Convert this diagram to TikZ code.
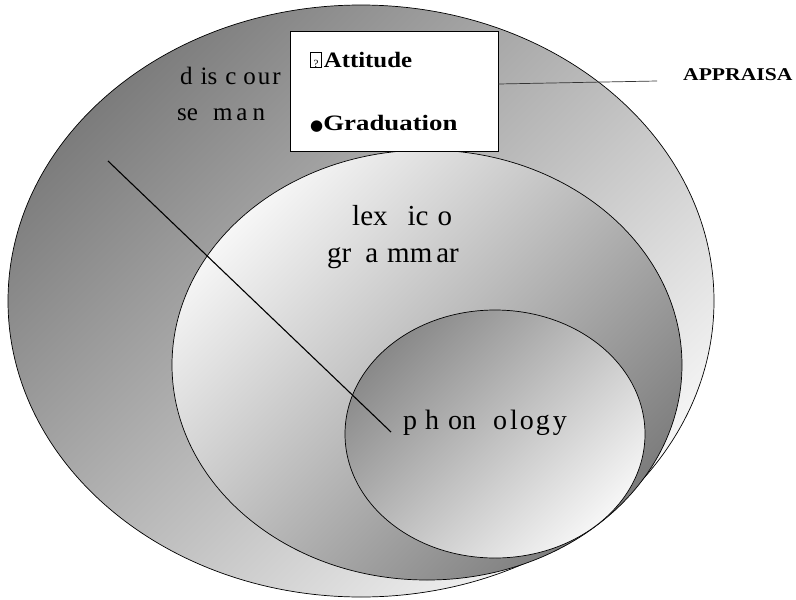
\documentclass[tikz,border=0pt]{standalone}
\usepackage{fontspec}
\setmainfont{Liberation Serif}
\newfontfamily\dejavu{DejaVu Sans}
\usetikzlibrary{shapes.geometric}
\definecolor{gdark}{HTML}{7C7C7C}
\definecolor{glight}{HTML}{F6F6F6}
\newcommand{\gp}[1]{\hspace{#1pt}}
\begin{document}
\begin{tikzpicture}[x=1pt,y=-1pt,
  ring/.style={ellipse, draw=black, line width=0.7pt, inner sep=0pt},
  txt/.style={anchor=base west, inner sep=0pt},
  reg/.style={txt, font=\fontsize{25}{27}\selectfont},
  big/.style={txt, font=\fontsize{29}{31}\selectfont},
  bld/.style={txt, font=\bfseries\fontsize{22}{26}\selectfont},
  thinline/.style={draw=black!80, line width=0.7pt},
]
\useasboundingbox (0,0) rectangle (796,600);
% ellipses
\node[ring, minimum width=706, minimum height=592, top color=gdark, bottom color=glight, shading angle=45] (outer) at (361,301) {};
\node[ring, minimum width=510, minimum height=430, top color=glight, bottom color=gdark, shading angle=45] (middle) at (427,365) {};
\node[ring, minimum width=300, minimum height=248, top color=gdark!90, bottom color=glight, shading angle=45] (inner) at (495,434) {};
% labels in ellipses
\node[reg] (disc1) at (180,84) {d\gp{8}is\gp{8}c\gp{7}o\gp{2}u\gp{2}r};
\node[reg] (disc2) at (177,120) {se\gp{15}m\gp{4}a\gp{5}n};
\node[big] (lex) at (352,225) {lex\gp{20}ic\gp{9}o};
\node[big] (gram) at (327,262) {gr\gp{14}a\gp{9}mm\gp{4}ar};
\node[big, font=\fontsize{28}{30}\selectfont] (phon) at (403,429) {p\gp{8}h\gp{9}on\gp{17}o\gp{3}l\gp{2}o\gp{2}g\gp{3}y};
% diagonal line
\coordinate (d1) at (108,161);
\coordinate (d2) at (391,432);
\draw[line width=1.1pt] (d1) -- (d2);
% box
\node[draw=black, line width=0.7pt, fill=white, minimum width=208, minimum height=120, inner sep=0pt] (box) at (394,91) {};
\node[bld] (att) at (310,67) {{\fboxsep=0pt\fboxrule=0.8pt\fbox{\rule{0pt}{14pt}\makebox[10pt]{\mdseries\fontsize{11}{11}\selectfont ?}}}\gp{2}\scalebox{1.13}[1]{Attitude}};
\node[bld] (grad) at (310,130) {{\dejavu\fontsize{15}{15}\selectfont ●}\scalebox{1.22}[1]{Graduation}};
% appraisal
\node[txt, font=\bfseries\fontsize{18}{20}\selectfont] (appr) at (683,80) {\scalebox{1.2}[1]{APPRAISA}};
\coordinate (ap) at (657,81);
\draw[thinline] ([yshift=7pt]box.east) -- (ap);
\end{tikzpicture}
\end{document}
